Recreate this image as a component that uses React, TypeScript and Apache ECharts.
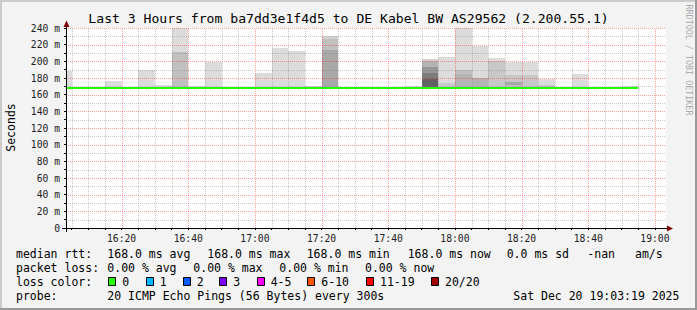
import React, { useEffect, useRef } from "react";
import * as echarts from "echarts";

const FONT = '"DejaVu Sans Mono", monospace';
const TITLE = "Last 3 Hours from ba7dd3e1f4d5 to DE Kabel BW AS29562 (2.200.55.1)";

// time axis: minutes after 16:00
const xStart = 3 + 19 / 60; // 16:03:19
const xEnd = xStart + 180; // 19:03:19
const stepMinutes = 5;
const xLabelMinutes = [20, 40, 60, 80, 100, 120, 140, 160, 180];
const xMinorMinutes = [5, 10, 15, 25, 30, 35, 45, 50, 55, 65, 70, 75, 85, 90, 95, 105, 110, 115, 125, 130, 135, 145, 150, 155, 165, 170, 175];
const yMajorValues = [20, 40, 60, 80, 100, 120, 140, 160, 180, 200, 220, 240];
const yMinorValues = [10, 30, 50, 70, 90, 110, 130, 150, 170, 190, 210, 230];

// median rtt (ms)
const medianRtt = 168;
const medianFrom = xStart;
const medianTo = 175;

// smoke: per 5-minute step, band tops (ms, bottom to top) and shade level of each band
const smokeStarts = [0, 15, 25, 30, 35, 40, 45, 60, 65, 70, 75, 80, 105, 110, 115, 120, 125, 130, 135, 140, 145, 155, 170];
const smokeTops = [
  [188], [177], [190], [172], [211, 245], [170], [199], [186], [216], [213], [171],
  [213.6, 227, 230], [170],
  [178.8, 185.6, 193.6, 200.8, 203], [173.6, 205.6], [184.8, 189.6, 245], [179.6, 219],
  [200.8, 204.4], [171.6, 175.6, 183.6, 199], [183.6, 199], [171.6, 178.8], [184.8], [170],
];
const smokeShades = [
  [0], [0], [0], [0], [3, 0], [0], [0], [0], [0], [0], [1],
  [5, 3, 1], [0],
  [8, 7, 6, 4, 1], [2, 0], [4, 3, 0], [4, 0],
  [2, 0], [3, 5, 2, 0], [2, 0], [2, 0], [0], [0],
];
const SHADE_COLORS = ["#dcdcdc", "#d2d2d2", "#c8c8c8", "#c0c0c0", "#b4b4b4", "#a8a8a8", "#969696", "#7c7c7c", "#626262"];

// legend
const lossLabels = ["0", "1", "2", "3", "4-5", "6-10", "11-19", "20/20"];
const lossColors = ["#26ff00", "#00b8ff", "#0059ff", "#7e00ff", "#ff00ff", "#ff5500", "#ff0000", "#a10000"];
const rttRow = ["median rtt:", "168.0 ms avg", "168.0 ms max", "168.0 ms min", "168.0 ms now", "0.0 ms sd", "-nan", "am/s"];
const lossRow = ["packet loss:", "0.00 % avg", "0.00 % max", "0.00 % min", "0.00 % now"];
const probeRow = ["probe:", "20 ICMP Echo Pings (56 Bytes) every 300s", "Sat Dec 20 19:03:19 2025"];

const rttX = [16, 107.3, 207.3, 306.7, 407.7, 506.7, 587.3, 635];
const lossX = [16, 107.3, 193.3, 279.3, 365];
const probeX = [16, 107.3, 513.3];
const boxX = [108.3, 145.7, 182.7, 219.3, 256.7, 307.3, 366, 431];

function fmtTime(v: number) {
  const total = 16 * 60 + Math.round(v);
  const h = Math.floor(total / 60);
  const m = total % 60;
  return `${h}:${m < 10 ? "0" + m : m}`;
}

export default function App() {
  const ref = useRef<HTMLDivElement>(null);
  useEffect(() => {
    if (!ref.current) return;
    const chart = echarts.init(ref.current, undefined, { renderer: "svg" });

    // each smoke band: [start, end, low, high, shade]; the first step starts before the visible window
    const smokeData: number[][] = [];
    smokeStarts.forEach((s, i) => {
      let lo = medianRtt;
      smokeTops[i].forEach((top, j) => {
        smokeData.push([Math.max(s, xStart), s + stepMinutes, lo, Math.min(top, 240), smokeShades[i][j]]);
        lo = top;
      });
    });

    const gridData: number[][] = [];
    xMinorMinutes.forEach((v) => gridData.push([0, v, 0]));
    xLabelMinutes.forEach((v) => gridData.push([0, v, 1]));
    yMinorValues.forEach((v) => gridData.push([1, v, 0]));
    yMajorValues.forEach((v) => gridData.push([1, v, 1]));

    const txt = (text: string, x: number, y: number, extra: any = {}) => ({
      type: "text",
      x,
      y,
      z: 100,
      silent: true,
      style: {
        text,
        fontFamily: FONT,
        fontSize: 11.5,
        fill: "#000",
        verticalAlign: "middle",
        align: "left",
        ...extra,
      },
    });

    const graphics: any[] = [
      { type: "rect", shape: { x: 0, y: 0, width: 697, height: 2 }, style: { fill: "#cbcbcb" }, z: 90, silent: true },
      { type: "rect", shape: { x: 0, y: 0, width: 2, height: 310 }, style: { fill: "#cbcbcb" }, z: 90, silent: true },
      { type: "rect", shape: { x: 695, y: 0, width: 2, height: 310 }, style: { fill: "#999999" }, z: 90, silent: true },
      { type: "rect", shape: { x: 0, y: 308, width: 697, height: 2 }, style: { fill: "#999999" }, z: 90, silent: true },
      txt(TITLE, 348.5, 18.5, { fontSize: 13.1, align: "center" }),
      {
        type: "text",
        x: 11,
        y: 127.5,
        rotation: Math.PI / 2,
        z: 100,
        silent: true,
        style: { text: "Seconds", fontFamily: FONT, fontSize: 11.5, fill: "#000", align: "center", verticalAlign: "middle" },
      },
      {
        type: "text",
        x: 688.5,
        y: 60,
        rotation: -Math.PI / 2,
        z: 100,
        silent: true,
        style: { text: "RRDTOOL / TOBI OETIKER", fontFamily: FONT, fontSize: 8.4, fill: "#aaaaaa", align: "center", verticalAlign: "middle" },
      },
      // axis extensions and arrows
      { type: "line", shape: { x1: 62, y1: 228.5, x2: 668, y2: 228.5 }, style: { stroke: "#000", lineWidth: 1 }, z: 95, silent: true },
      { type: "line", shape: { x1: 66.5, y1: 232, x2: 66.5, y2: 24 }, style: { stroke: "#000", lineWidth: 1 }, z: 95, silent: true },
      { type: "polygon", shape: { points: [[667, 225.5], [673, 228.5], [667, 231.5]] }, style: { fill: "#7f0000" }, z: 96, silent: true },
      { type: "polygon", shape: { points: [[63.5, 27], [66.5, 20.5], [69.5, 27]] }, style: { fill: "#7f0000" }, z: 96, silent: true },
    ];

    rttRow.forEach((t, i) => graphics.push(txt(t, rttX[i], 253.5)));
    lossRow.forEach((t, i) => graphics.push(txt(t, lossX[i], 267.8)));
    graphics.push(txt("loss color:", 16, 282));
    lossLabels.forEach((t, i) => {
      graphics.push({
        type: "rect",
        shape: { x: Math.round(boxX[i]) + 0.5, y: 277.5, width: 7, height: 8 },
        style: { fill: lossColors[i], stroke: "#000", lineWidth: 1 },
        z: 100,
        silent: true,
      });
      graphics.push(txt(t, boxX[i] + 14, 282));
    });
    probeRow.forEach((t, i) => graphics.push(txt(t, probeX[i], 296.3)));

    chart.setOption({
      animation: false,
      backgroundColor: "#f3f3f3",
      grid: {
        left: 66,
        right: 31,
        top: 28,
        bottom: 82,
        show: true,
        backgroundColor: "#ffffff",
        borderWidth: 0,
        containLabel: false,
      },
      xAxis: {
        type: "value",
        min: xStart,
        max: xEnd,
        axisLine: { show: false },
        splitLine: { show: false },
        axisTick: {
          show: true,
          length: 2,
          customValues: [...xMinorMinutes, ...xLabelMinutes].sort((a, b) => a - b),
          lineStyle: { color: "#000" },
        },
        axisLabel: {
          customValues: xLabelMinutes,
          formatter: (v: number) => fmtTime(v),
          fontFamily: FONT,
          fontSize: 9.7,
          color: "#222",
          margin: 5,
        },
      },
      yAxis: {
        type: "value",
        min: 0,
        max: 240,
        interval: 20,
        axisLine: { show: false },
        splitLine: { show: false },
        axisTick: { show: true, length: 2, lineStyle: { color: "#000" } },
        minorTick: { show: true, splitNumber: 2, length: 2, lineStyle: { color: "#000" } },
        axisLabel: {
          formatter: (v: number) => (v === 0 ? "0" : `${v} m`),
          fontFamily: FONT,
          fontSize: 9.7,
          color: "#222",
          margin: 6,
        },
      },
      graphic: graphics,
      series: [
        {
          type: "custom",
          name: "smoke",
          clip: true,
          silent: true,
          z: 2,
          data: smokeData,
          encode: { x: [0, 1], y: [2, 3] },
          renderItem: (_p: any, api: any) => {
            const a = api.coord([api.value(0), api.value(3)]);
            const b = api.coord([api.value(1), api.value(2)]);
            const x0 = Math.round(a[0]);
            const x1 = Math.round(b[0]);
            const y0 = Math.round(a[1]);
            const y1 = Math.round(b[1]);
            return {
              type: "rect",
              shape: { x: x0, y: y0, width: x1 - x0, height: y1 - y0 },
              style: { fill: SHADE_COLORS[api.value(4)] },
            };
          },
        },
        {
          type: "custom",
          name: "grid",
          clip: true,
          silent: true,
          z: 3,
          data: gridData,
          renderItem: (_p: any, api: any) => {
            const orient = api.value(0);
            const v = api.value(1);
            const major = api.value(2) === 1;
            const stroke = major ? "rgba(255,0,0,0.38)" : "rgba(128,128,128,0.42)";
            if (orient === 0) {
              const p = api.coord([v, 0]);
              const q = api.coord([v, 240]);
              const x = Math.round(p[0]) + 0.5;
              return {
                type: "line",
                shape: { x1: x, y1: p[1], x2: x, y2: q[1] },
                style: { stroke, lineWidth: 1, lineDash: [1, 1] },
              };
            }
            const p = api.coord([xStart, v]);
            const q = api.coord([xEnd, v]);
            const y = Math.round(p[1]) + 0.5;
            return {
              type: "line",
              shape: { x1: p[0], y1: y, x2: q[0], y2: y },
              style: { stroke, lineWidth: 1, lineDash: [1, 1] },
            };
          },
        },
        {
          type: "line",
          name: "median rtt",
          z: 5,
          symbol: "none",
          data: [
            [medianFrom, medianRtt],
            [medianTo, medianRtt],
          ],
          lineStyle: { color: "#26ff00", width: 2 },
        },
      ],
    });
    return () => chart.dispose();
  }, []);
  return <div ref={ref} style={{ position: "fixed", left: 0, top: 0, width: 697, height: 310 }} />;
}
